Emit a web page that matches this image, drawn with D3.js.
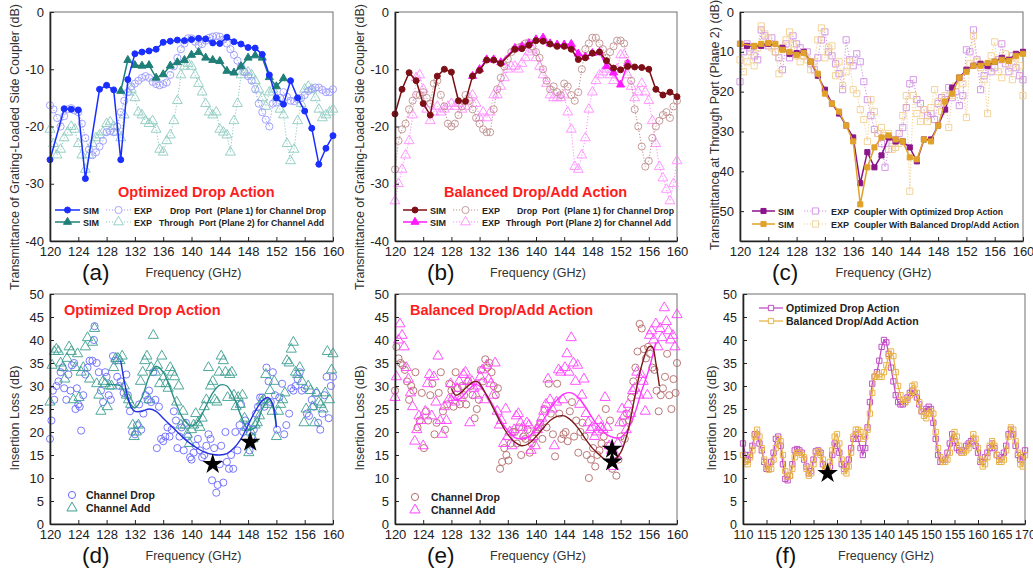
<!DOCTYPE html>
<html>
<head>
<meta charset="utf-8">
<script src="https://cdn.jsdelivr.net/npm/d3@7"></script>
<style>
body { margin: 0; background: #fff; }
svg { display: block; font-family: Arial, "Liberation Sans", sans-serif; }
.pre { white-space: pre; }
</style>
</head>
<body>
<div id="fig"></div>
<script>
// ---- (a) optimized drop action, transmittance
var A_SIM_DROP = [[120,-25.8],[122,-16.9],[123,-17.0],[124,-17.1],[125,-29.1],[127,-13.5],[128,-12.8],[129,-13.6],[130,-25.8],[131,-11.8],[132,-7.3],[133,-7.0],[134,-6.8],[135,-6.5],[136,-5.3],[137,-5.1],[138,-4.9],[139,-5.0],[140,-4.8],[141,-4.6],[142,-4.7],[143,-5.4],[144,-5.5],[145,-4.4],[146,-5.2],[147,-5.6],[148,-6.2],[149,-6.3],[150,-7.4],[151,-11.0],[152,-15.0],[153,-16.1],[154,-12.0],[155,-15.0],[156,-17.3],[157,-20.3],[158,-26.6],[159,-23.8],[160,-21.6]];
var A_SIM_ADD = [[130,-13.8],[131,-8.4],[132,-9.3],[133,-9.4],[134,-9.3],[135,-11.5],[136,-10.9],[137,-9.4],[138,-8.8],[139,-8.4],[140,-7.5],[141,-7.0],[142,-8.0],[143,-8.4],[144,-8.6],[145,-10.3],[146,-10.6],[147,-9.5],[148,-8.0],[149,-7.6],[150,-8.0],[151,-11.4],[152,-13.0],[153,-11.6]];
var A_EXP_DROP = [[120,-16.3],[120.5,-17],[121,-18.5],[121.5,-20],[122,-18.2],[122.5,-17],[123,-16.8],[123.5,-17.2],[124,-17.5],[124.5,-19.5],[125,-22],[125.5,-24],[126,-25],[126.5,-24.5],[127,-23.5],[127.5,-22.5],[128,-21],[128.5,-20.8],[129,-21],[129.5,-20],[130,-17.5],[130.5,-15.5],[131,-14],[131.5,-13],[132,-12.5],[132.5,-12],[133,-11.5],[133.5,-11.2],[134,-11.5],[134.5,-12.2],[135,-12.6],[135.5,-12.8],[136,-12.6],[136.5,-12.3],[137,-11],[137.5,-9.5],[138,-8],[138.5,-6.5],[139,-5.5],[139.5,-4.6],[140,-4.6],[140.5,-5.2],[141,-5.8],[141.5,-5.6],[142,-5.0],[142.5,-4.5],[143,-4.3],[143.5,-4.2],[144,-4.3],[144.5,-4.8],[145,-5.5],[145.5,-6.5],[146,-7.5],[146.5,-8.5],[147,-9.5],[147.5,-10.5],[148,-11.2],[148.5,-12],[149,-13.5],[149.5,-16],[150,-17.5],[150.5,-18.8],[151,-20],[151.5,-16],[152,-15.8],[152.5,-15],[153,-14],[153.5,-14.8],[154,-15.5],[154.5,-15.6],[155,-15.2],[155.5,-15],[156,-14.5],[156.5,-13.8],[157,-13.5],[157.5,-13.2],[158,-13.2],[158.5,-13.6],[159,-14],[159.5,-14],[160,-13.5]];
var A_EXP_ADD = [[120,-20.5],[120.5,-23],[121,-25],[121.5,-24],[122,-22],[122.5,-21],[123,-20],[123.5,-20.5],[124,-23],[124.5,-25],[125,-27.5],[125.5,-25],[126,-23],[126.5,-22],[127,-21.5],[127.5,-21],[128,-19.5],[128.5,-19.2],[129,-20],[129.5,-21],[130,-22],[130.5,-18],[131,-14],[131.5,-13.5],[132,-15],[132.5,-17.5],[133,-18],[133.5,-19],[134,-19.5],[134.5,-19],[135,-20.5],[135.5,-24],[136,-24.5],[136.5,-22.5],[137,-21.5],[137.5,-19],[138,-15.5],[138.5,-11],[139,-9.5],[139.5,-9],[140,-9.5],[140.5,-11],[141,-12.5],[141.5,-14],[142,-16],[142.5,-17.5],[143,-18],[143.5,-17.5],[144,-20.5],[144.5,-21],[145,-21.5],[145.5,-24.5],[146,-19],[146.5,-16],[147,-11],[147.5,-10.5],[148,-10.5],[148.5,-11],[149,-12],[149.5,-13.5],[150,-15],[150.5,-16.5],[151,-14],[151.5,-13.5],[152,-15],[152.5,-17],[153,-18],[153.5,-23],[154,-26],[154.5,-24],[155,-19],[155.5,-16],[156,-13.5],[156.5,-13],[157,-13.5],[157.5,-15],[158,-17],[158.5,-18.5],[159,-18],[159.5,-17.5],[160,-17]];

// ---- (b) balanced drop/add action, transmittance
var B_SIM_DROP = [[120,-17.8],[121,-13.5],[122,-10.6],[123,-12],[124,-16],[125,-18],[126,-11.2],[127,-10],[128,-10.5],[129,-15.5],[130,-15.6],[131,-11.2],[132,-10.2],[133,-8.4],[134,-8.4],[135,-9.0],[137,-6.5],[138,-6.4],[139,-5.8],[140,-5.0],[141,-5.1],[142,-5.6],[143,-6.0],[144,-6.0],[145,-6.5],[146,-8.3],[147,-8.0],[148,-7.2],[149,-7.0],[150,-8.5],[151,-9.8],[152,-10.1],[153,-9.5],[154,-9.6],[155,-9.7],[156,-10.0],[157,-13.5],[158,-14.5],[159,-14],[160,-14.8]];
var B_SIM_ADD = [[131,-11.2],[132,-10],[133,-8.3],[134,-8.3],[135,-8.8],[137,-6.3],[138,-6],[139,-5.5],[140,-4.8],[141,-4.5],[142,-5.5],[143,-5.7],[144,-5.7],[145,-5.6],[146,-7.3],[147,-7.8],[148,-7.2],[149,-7.0],[150,-9.5],[151,-10.6],[152,-12.7],[153,-9]];
var B_EXP_DROP = [[120,-27.5],[120.5,-22.5],[121,-20.5],[121.5,-19.5],[122,-17],[122.5,-15.5],[123,-14.5],[123.5,-14.5],[124,-14],[124.5,-15],[125,-16],[125.5,-12.5],[126,-12],[126.5,-14.5],[127,-16.5],[127.5,-19.5],[128,-20],[128.5,-19.5],[129,-18],[129.5,-16.5],[130,-14.5],[130.5,-15.5],[131,-17],[131.5,-18.5],[132,-19.5],[132.5,-20.5],[133,-21],[133.5,-21],[134,-17],[134.5,-13.5],[135,-11.5],[135.5,-9.5],[136,-8.2],[136.5,-7],[137,-6.5],[137.5,-6.2],[138,-6],[138.5,-5.5],[139,-5.3],[139.5,-6],[140,-7],[140.5,-8],[141,-10],[141.5,-12],[142,-13.5],[142.5,-13],[143,-14],[143.5,-14.5],[144,-12.5],[144.5,-13],[145,-14.5],[145.5,-15.5],[146,-14],[146.5,-10],[147,-6.5],[147.5,-5.5],[148,-4.5],[148.5,-4.5],[149,-5.5],[149.5,-6.5],[150,-8],[150.5,-7],[151,-6],[151.5,-5],[152,-5],[152.5,-5.5],[153,-9],[153.5,-12],[154,-17],[154.5,-20],[155,-23.5],[155.5,-27],[156,-26],[156.5,-22],[157,-20],[157.5,-19],[158,-18],[158.5,-17.5],[159,-18.5],[159.5,-16.5],[160,-15.5]];
var B_EXP_ADD = [[120,-33],[120.5,-30],[121,-27.5],[121.5,-25],[122,-22.5],[122.5,-18],[123,-11.5],[123.5,-11],[124,-13.5],[124.5,-17],[125,-19],[125.5,-17.5],[126,-16.5],[126.5,-17.5],[127,-17],[127.5,-16.5],[128,-16],[128.5,-16.5],[129,-16],[129.5,-17],[130,-16.5],[130.5,-15],[131,-14.5],[131.5,-16],[132,-18.5],[132.5,-17.5],[133,-18.5],[133.5,-17.5],[134,-14.5],[134.5,-14.5],[135,-13],[135.5,-11.5],[136,-10],[136.5,-9.5],[137,-9.5],[137.5,-10],[138,-9],[138.5,-8],[139,-7],[139.5,-6.5],[140,-8],[140.5,-9.5],[141,-11],[141.5,-12.5],[142,-14.5],[142.5,-15],[143,-15],[143.5,-15],[144,-14.5],[144.5,-17.5],[145,-20.5],[145.5,-27],[146,-27.5],[146.5,-25],[147,-22],[147.5,-17],[148,-14],[148.5,-12],[149,-11],[149.5,-10.5],[150,-10],[150.5,-11],[151,-12],[151.5,-10],[152,-7.5],[152.5,-7.5],[153,-11],[153.5,-13],[154,-15],[154.5,-14],[155,-12.5],[155.5,-14],[156,-15.5],[156.5,-19],[157,-23],[157.5,-27],[158,-29],[158.5,-31],[159,-33],[159.5,-30],[160,-26]];

// ---- (c) through port transmittance
var C_SIM_OPT = [[120,-8],[121,-8.5],[122,-8.6],[123,-8.5],[124,-8],[126,-9],[127,-10.5],[128,-10.3],[129,-10],[130,-12.5],[131,-16],[132,-19.5],[133,-23],[134,-25.5],[135,-28.5],[136,-31.5],[137,-43],[138,-35.2],[139,-39],[140,-36],[141,-31.5],[142,-32.5],[143,-32.5],[144,-34],[145,-37.5],[146,-32],[147,-32],[148,-28.5],[149,-24.5],[150,-19],[151,-16.5],[152,-14.5],[153,-13.5],[154,-13],[155,-13.5],[156,-12.5],[157,-11.5],[158,-12],[159,-10.5],[160,-10]];
var C_SIM_BAL = [[120,-8],[122,-8.5],[123,-8],[124,-7.8],[125,-8],[126,-9.5],[127,-10],[128,-10.8],[129,-10.3],[130,-12.5],[131,-15.5],[132,-20.5],[133,-23],[134,-25],[135,-28.5],[136,-32.5],[137,-48.3],[138,-39],[139,-34],[140,-31.5],[141,-31],[142,-32],[143,-32.5],[144,-36.5],[145,-37],[146,-32],[147,-32.5],[148,-28.5],[149,-22.5],[150,-20.5],[151,-16.5],[152,-15],[153,-13.5],[154,-13.5],[155,-12.8],[156,-12.5],[157,-12],[158,-12.3],[159,-11],[160,-10.5]];
var C_EXP_OPT = [[120,-17.5],[120.5,-10],[121,-8],[121.5,-9],[122,-11],[122.5,-12],[123,-4.5],[123.5,-6],[124,-8.5],[124.5,-6.5],[125,-10],[125.5,-11.5],[126,-14.5],[126.5,-8],[127,-11.5],[127.5,-6],[128,-8],[128.5,-9],[129,-11],[129.5,-10],[130,-13],[130.5,-14.5],[131,-11.5],[131.5,-7],[132,-5],[132.5,-10],[133,-11],[133.5,-13],[134,-15.5],[134.5,-19.5],[135,-7],[135.5,-12],[136,-13.5],[136.5,-10.5],[137,-12.5],[137.5,-17.5],[138,-22],[138.5,-26],[139,-29.5],[139.5,-30.5],[140,-33],[140.5,-39],[141,-34.5],[141.5,-33],[142,-32],[142.5,-30.5],[143,-29],[143.5,-24],[144,-18],[144.5,-17],[145,-22],[145.5,-23],[146,-24.5],[146.5,-26],[147,-25.5],[147.5,-27],[148,-23],[148.5,-21.5],[149,-22],[149.5,-19],[150,-21.5],[150.5,-20],[151,-23.5],[151.5,-21],[152,-9.5],[152.5,-10],[153,-4.5],[153.5,-12],[154,-19.5],[154.5,-16],[155,-13.5],[155.5,-15],[156,-14],[156.5,-12],[157,-8],[157.5,-13],[158,-15],[158.5,-11],[159,-14],[159.5,-16],[160,-17]];
var C_EXP_BAL = [[120,-12],[120.5,-15],[121,-12.5],[121.5,-10],[122,-13.5],[122.5,-9],[123,-3.5],[123.5,-5.5],[124,-6.5],[124.5,-9],[125,-10],[125.5,-15.5],[126,-9],[126.5,-7],[127,-5],[127.5,-8],[128,-11],[128.5,-12.5],[129,-11],[129.5,-12],[130,-14.5],[130.5,-12.5],[131,-7],[131.5,-4],[132,-11.5],[132.5,-9],[133,-8.5],[133.5,-16],[134,-12.5],[134.5,-18.5],[135,-15],[135.5,-12.5],[136,-19.5],[136.5,-20.5],[137,-24.5],[137.5,-27],[138,-32.5],[138.5,-22],[139,-25],[139.5,-30.5],[140,-29],[140.5,-31],[141,-30.5],[141.5,-34.5],[142,-34],[142.5,-33],[143,-26],[143.5,-21],[144,-45],[144.5,-21],[145,-25.5],[145.5,-27.5],[146,-24.5],[146.5,-27.5],[147,-24],[147.5,-19.5],[148,-22.5],[148.5,-25],[149,-21],[149.5,-29],[150,-21],[150.5,-18.5],[151,-16.5],[151.5,-18],[152,-26.5],[152.5,-13],[153,-6],[153.5,-12.5],[154,-14],[154.5,-17],[155,-25.5],[155.5,-11],[156,-7.5],[156.5,-15],[157,-16.5],[157.5,-10.5],[158,-13],[158.5,-17],[159,-11.5],[159.5,-13.5],[160,-21]];

// ---- (d) optimized drop action, insertion loss
var D_DROP = [[120.0,18.5],[120.2,22.5],[120.4,29],[120.6,27],[120.9,30],[121.2,31],[121.5,33],[121.8,34],[122.0,29.5],[122.3,27],[122.6,32.5],[122.9,29],[123.1,34.5],[123.4,35],[123.6,25],[123.8,29.5],[124.0,26],[124.2,25.5],[124.4,20.3],[124.7,28],[125.0,32.5],[125.3,34],[125.6,35.5],[126.0,35.5],[126.2,40],[126.3,43],[126.6,35],[126.9,33],[127.2,29],[127.5,26.5],[127.8,33],[128.0,32],[128.3,28],[128.6,27],[128.9,36.5],[129.2,35.5],[129.5,32],[129.8,30],[130.0,31],[130.4,28.5],[130.8,32.5],[131.0,28],[131.3,24.5],[131.6,20],[132.0,19.5],[132.3,21.5],[132.6,26],[132.9,20.5],[133.2,24],[133.5,28],[133.8,27],[134.0,29],[134.3,26.5],[134.6,33],[134.9,27],[135.1,16.5],[135.4,25.5],[135.7,18.5],[136.0,18],[136.3,19],[136.6,21],[136.9,19],[137.2,20.5],[137.5,24.5],[137.8,22.5],[138.0,16.5],[138.3,19],[138.6,21],[138.9,16],[139.2,22],[139.5,19],[139.8,14.5],[140.0,14],[140.3,15.5],[140.6,17],[140.9,18.5],[141.2,16],[141.5,14.5],[141.8,15],[142.1,17],[142.4,19.5],[142.7,18.5],[142.9,9.5],[143.2,16.5],[143.5,6.8],[143.7,8.5],[144.0,13],[144.2,17],[144.5,9],[144.8,20],[145.0,13.5],[145.3,12],[145.6,15],[145.9,12],[146.2,20],[146.5,16],[146.8,21.5],[147.0,26],[147.3,20],[147.6,22.5],[147.9,21],[148.2,16],[148.5,19],[148.8,20.5],[149.1,24],[149.4,25.5],[149.7,27.5],[150.0,27.5],[150.3,25.5],[150.6,34],[150.9,31],[151.2,26.5],[151.5,33],[151.8,28],[152.1,20.5],[152.4,27.5],[152.8,30.5],[153.1,19.5],[153.4,21.5],[153.8,24],[154.1,29.5],[154.4,29],[154.7,30],[155.0,31.5],[155.3,33],[155.6,29],[156.0,29.5],[156.3,24],[156.6,23.5],[157.0,27],[157.3,25.5],[157.6,28.5],[157.9,22],[158.2,20.5],[158.5,24],[158.8,28],[159.1,32],[159.4,23],[159.7,30],[160.0,32]];
var D_ADD = [[120.0,26.5],[120.3,34.5],[120.6,37.5],[120.9,38],[121.2,37.5],[121.5,35],[121.8,34],[122.1,31.5],[122.4,36],[122.7,38.5],[123.0,37.5],[123.3,27],[123.6,34],[123.9,37],[124.1,27.5],[124.4,33],[124.7,34],[125.0,38.5],[125.3,40.5],[125.6,31.5],[126.0,39.5],[126.3,42.5],[126.6,30.5],[126.9,28],[127.2,24.5],[127.5,31],[127.8,30.5],[128.1,25.5],[128.4,30],[128.7,30],[129.0,34],[129.3,36],[129.6,36],[129.9,35.5],[130.2,36.5],[130.5,30],[130.8,28],[131.1,27],[131.4,26],[131.7,21.5],[131.9,19],[132.2,20],[132.5,21.5],[132.8,31],[133.1,33],[133.4,35.5],[133.7,36.5],[134.0,27],[134.3,34],[134.6,41],[134.9,33],[135.2,34.5],[135.5,30.5],[135.8,36.5],[136.1,32],[136.4,30.5],[136.7,29.5],[137.0,34],[137.3,33],[137.6,32],[137.9,26.5],[138.2,30],[138.5,21.5],[138.8,24.5],[139.1,21.5],[139.4,19.5],[139.7,17.5],[140.0,20.5],[140.3,21.5],[140.6,24],[140.9,22],[141.2,21],[141.5,23],[141.8,25.5],[142.1,27],[142.4,34],[142.7,30],[143.0,31],[143.3,27],[143.6,26.5],[143.9,33],[144.2,36.5],[144.5,35.5],[144.8,33],[145.1,27.5],[145.4,32.5],[145.7,33],[146.0,28],[146.3,25.5],[146.6,27.5],[146.9,26],[147.2,28],[147.5,23],[147.8,21],[148.1,15.5],[148.4,20],[148.7,18.5],[149.0,21.5],[149.3,22],[149.6,23.5],[149.9,26.5],[150.2,27],[150.5,32.5],[150.8,26],[151.1,29],[151.4,24.5],[151.7,31],[152.0,19],[152.3,24.5],[152.6,26],[152.9,27],[153.2,28.5],[153.5,35.5],[153.8,35],[154.1,38],[154.4,39.5],[154.7,33],[155.0,32.5],[155.3,34],[155.6,31],[155.9,22],[156.2,25],[156.5,30],[156.8,29],[157.1,25.5],[157.4,22],[157.7,28.5],[158.0,26.5],[158.3,26],[158.6,25],[158.9,28.5],[159.2,37.5],[159.5,27],[159.8,33.5],[160.0,37]];
var D_FIT_DROP = [[130,35.5],[130.5,31],[131,27.5],[131.5,25.3],[132,24.5],[133,24.5],[134,25],[135,24.5],[136,23],[137,21.5],[138,20],[139,18.5],[140,17.3],[141,16.3],[142,15.5],[143,15.1],[144,15.0],[145,15.3],[146,16.5],[147,18.5],[148,21.5],[149,24.5],[150,26.8],[150.8,27.5],[151.5,26],[152,21]];
var D_FIT_ADD = [[128,30.3],[129,30.3],[130,30],[131,27],[132,25.2],[133,27.5],[134,32],[135,34.3],[136,33],[137,29.5],[138,25.5],[139,22.5],[140,21.3],[141,22.5],[142,25.5],[143,28.5],[144,30.2],[145,30],[146,27.5],[147,23.5],[148,20.6],[149,21],[150,25],[151,27.2],[151.5,25.5],[152,21]];
var D_STARS = [[143,13],[148.3,17.8]];

// ---- (e) balanced drop/add action, insertion loss
var E_DROP = [[120.0,29],[120.2,38.5],[120.5,36],[120.8,35],[121.1,34.5],[121.4,33.5],[121.7,31],[122.0,27],[122.3,30],[122.6,29],[122.9,33],[123.2,21],[123.5,22.5],[123.8,28.5],[124.1,16.5],[124.4,24.5],[124.7,22.5],[125.0,28],[125.3,30.5],[125.6,19.5],[125.9,22],[126.2,28.5],[126.5,33],[126.8,24.5],[127.1,20.5],[127.4,26],[127.7,30.5],[128.0,29],[128.3,25.5],[128.6,33],[128.9,29.5],[129.2,26],[129.5,30],[129.8,28],[130.1,26],[130.4,31],[130.7,30],[131.0,28],[131.3,23],[131.6,25],[131.9,27],[132.2,33.5],[132.5,31],[132.8,35.8],[133.1,34],[133.4,35],[133.7,33],[134.0,30],[134.3,28],[134.6,29.5],[134.9,12],[135.2,13.5],[135.5,16.5],[135.8,15],[136.1,13.8],[136.4,17.5],[136.7,20],[137.0,20],[137.3,17.5],[137.6,21],[137.9,15],[138.2,19],[138.5,18.5],[138.8,20.5],[139.1,15.5],[139.4,17.5],[139.7,18.5],[140.0,20],[140.3,21],[140.6,22],[140.9,18.5],[141.2,25],[141.5,21],[141.8,30.5],[142.1,24],[142.4,19.5],[142.7,14.7],[143.0,30.5],[143.3,24],[143.6,18.5],[143.9,19.5],[144.2,20],[144.5,18],[144.8,24.5],[145.1,26.5],[145.4,19],[145.7,22.5],[146.0,15.5],[146.3,20],[146.6,22],[146.9,19],[147.2,15],[147.5,10],[147.8,14],[148.1,16.5],[148.4,12.5],[148.7,15],[149.0,16],[149.3,17.5],[149.6,19],[149.9,25],[150.2,17],[150.5,22.5],[150.8,12],[151.1,14.5],[151.4,10.5],[151.7,14],[152.0,19],[152.3,22],[152.6,18.5],[152.9,24],[153.2,22.5],[153.5,27.5],[153.8,31],[154.1,34],[154.4,37.5],[154.7,43.5],[155.0,42.5],[155.3,38],[155.6,36],[155.9,38.5],[156.2,37],[156.5,34],[156.8,33.5],[157.1,29],[157.4,24.5],[157.7,28],[158.0,29.5],[158.3,32],[158.6,37],[158.9,28],[159.2,25],[159.5,31.5],[159.8,28.5],[160.0,35]];
var E_ADD = [[120.0,27.5],[120.2,32],[120.5,40],[120.7,43.5],[121.0,41],[121.3,38.5],[121.6,34],[121.9,31.5],[122.2,28.5],[122.5,25.5],[122.8,18],[123.1,20.5],[123.4,23.5],[123.7,22.5],[124.0,17],[124.3,24.5],[124.6,30.5],[124.9,32.5],[125.2,23.5],[125.5,32],[125.8,26.5],[126.1,36.5],[126.4,22.5],[126.7,19.5],[127.0,25.5],[127.3,22.5],[127.6,27],[127.9,30.5],[128.2,27.5],[128.5,26.5],[128.8,29.5],[129.1,31],[129.4,27.5],[129.7,32.5],[130.0,33],[130.3,31],[130.6,22],[130.9,31],[131.2,29.5],[131.5,28],[131.8,30],[132.1,32],[132.4,33.5],[132.7,27],[133.0,34.5],[133.3,31.5],[133.6,30.5],[133.9,28],[134.2,35],[134.5,24.5],[134.8,21.5],[135.1,22.5],[135.4,17.5],[135.7,25],[136.0,19],[136.3,20],[136.6,17],[136.9,20.5],[137.2,23.5],[137.5,24],[137.8,22],[138.1,21],[138.4,19.5],[138.7,22],[139.0,21.5],[139.3,16],[139.6,19],[139.9,17],[140.2,20.5],[140.5,21.5],[140.8,23],[141.1,24.5],[141.4,26],[141.7,31.5],[142.0,27],[142.3,25],[142.6,17],[142.9,26.5],[143.2,33.5],[143.5,33],[143.8,27],[144.1,34],[144.4,37],[144.7,33],[145.0,40.5],[145.3,35],[145.6,31],[145.9,34.5],[146.2,26],[146.5,28],[146.8,31.5],[147.1,24],[147.4,22],[147.7,20.5],[148.0,21],[148.3,19],[148.6,20],[148.9,22.5],[149.2,21],[149.5,20.5],[149.8,27.5],[150.1,21],[150.4,17],[150.7,16],[151.0,12.5],[151.3,15],[151.6,17.5],[151.9,22],[152.2,25],[152.5,23.5],[152.8,20.5],[153.1,26],[153.4,24],[153.7,29],[154.0,29.5],[154.3,33],[154.6,28],[154.9,32.5],[155.2,31],[155.5,24.5],[155.8,28],[156.1,41],[156.4,42],[156.7,40],[157.0,43.5],[157.3,38.5],[157.6,42.5],[157.9,40.5],[158.2,47],[158.5,44],[158.8,42],[159.1,40],[159.4,41],[159.7,38.5],[160.0,45.5]];
var E_FIT_DROP = [[128,29.5],[128.6,28],[129.3,28.5],[130,29.5],[131,30.8],[131.6,31],[132,30.5],[133,28],[134,25],[135,22],[136,19.5],[137,17.8],[138,17],[139,17.5],[140,19],[141,20.8],[142,22.5],[143,23.4],[144,23.5],[145,22.5],[146,20.8],[147,18.5],[148,16.5],[149,15],[150,13.8],[151,13.8],[152,15.5],[153,20],[154,27.5],[155,34.5],[156,38.5],[156.5,38.5],[157,35],[157.5,30]];
var E_FIT_ADD = [[128,28],[128.6,27],[129.3,27.3],[130,28.5],[131,30],[131.5,30.3],[132,30],[133,28],[134,25.5],[135,22.5],[136,20.3],[137,18.8],[138,18.5],[139,19],[140,20.5],[141,22.5],[142,25],[143,27],[144,28.3],[145,28.5],[146,27.5],[147,25.5],[148,23],[149,21],[150,19.5],[151,18.8],[152,18.8],[153,20.5],[154,24],[155,29],[156,33.5],[157,39.5]];
var E_STARS = [[150.8,16.3],[150.8,13.5]];

// ---- (f) insertion loss, wide band
var F_OPT = [[110,17.5],[110.5,15],[111,14],[111.5,15],[112,17],[112.5,19.5],[113,19.5],[113.5,17.5],[114,16],[114.5,13.5],[115,12],[115.5,12],[116,13.5],[116.5,15.5],[117,18.5],[117.5,19],[118,17],[118.5,13],[119,9.8],[119.5,9.5],[120,10.5],[120.5,13],[121,16],[121.5,16.3],[122,16],[122.5,15.5],[123,14],[123.5,12.5],[124,11],[124.5,11.5],[125,14],[125.5,15.8],[126,16],[126.5,15.5],[127,13],[127.5,11.5],[128,11.3],[128.5,12.5],[129,15],[129.5,17.5],[130,17],[130.5,15.5],[131,13],[131.5,12],[132,12.5],[132.5,14],[133,16.5],[133.5,18.5],[134,19.5],[134.5,18.5],[135,16.5],[135.5,15],[136,16.5],[136.5,21],[137,26.5],[137.5,30.5],[138,32],[138.5,33],[139,35.5],[139.5,38.5],[140,40],[140.5,39.5],[141,37],[141.5,34],[142,31],[142.5,28],[143,26.5],[143.5,26],[144,26],[144.5,26.5],[145,27.5],[145.5,28.5],[146,29],[146.5,28.5],[147,27.5],[147.5,26],[148,24.5],[148.5,24.5],[149,25],[149.5,25.5],[150,25],[150.5,22],[151,18.5],[151.5,15],[152,13.5],[152.5,13.5],[153,14],[153.5,15.5],[154,17.5],[154.5,19.5],[155,18],[155.5,16.5],[156,16],[156.5,15.5],[157,16],[157.5,17],[158,17.5],[158.5,18],[159,18.5],[159.5,17],[160,15.5],[160.5,13.5],[161,13.5],[161.5,14.5],[162,15.5],[162.5,16.5],[163,17.5],[163.5,16.5],[164,15],[164.5,14],[165,14.5],[165.5,15.5],[166,17],[166.5,19.5],[167,20.5],[167.5,19.5],[168,17],[168.5,15],[169,14],[169.5,14.5],[170,16]];
var F_BAL = [[110,15],[110.5,13.5],[111,13],[111.5,14.5],[112,16],[112.5,19],[113,20.5],[113.5,19],[114,16.5],[114.5,14],[115,12.5],[115.5,11.8],[116,12],[116.5,14],[117,16.5],[117.5,18.5],[118,18],[118.5,15],[119,11.5],[119.5,10.3],[120,10.5],[120.5,12],[121,14.5],[121.5,15.5],[122,15.5],[122.5,15],[123,14.5],[123.5,12],[124,10.5],[124.5,11],[125,13],[125.5,15.5],[126,15.8],[126.5,15],[127,14],[127.5,12],[128,12],[128.5,13.5],[129,16],[129.5,19],[130,19.5],[130.5,17.5],[131,14],[131.5,11.5],[132,11],[132.5,12.5],[133,15.5],[133.5,19],[134,20.5],[134.5,20.5],[135,20],[135.5,18.5],[136,19],[136.5,20.5],[137,24],[137.5,28.5],[138,32],[138.5,32.5],[139,32],[139.5,32],[140,33],[140.5,34.5],[141,36.5],[141.5,37.5],[142,36.5],[142.5,33],[143,30],[143.5,28],[144,27],[144.5,26.5],[145,27],[145.5,28],[146,30],[146.5,30.3],[147,28.5],[147.5,26.5],[148,24.5],[148.5,23.5],[149,23],[149.5,24],[150,24.5],[150.5,24],[151,20],[151.5,16.5],[152,14.5],[152.5,13.5],[153,13.5],[153.5,14],[154,15.5],[154.5,18.5],[155,20],[155.5,19],[156,17],[156.5,15.5],[157,15.5],[157.5,16],[158,16.5],[158.5,17.5],[159,19.5],[159.5,18.5],[160,16.5],[160.5,14],[161,12.5],[161.5,13],[162,14.5],[162.5,17],[163,18],[163.5,17],[164,15],[164.5,13.5],[165,13.5],[165.5,14],[166,16],[166.5,19],[167,21],[167.5,20.5],[168,18],[168.5,15.5],[169,13],[169.5,12.5],[170,15]];
var F_STARS = [[128,11]];

// tick labels
var TICKS_120_160 = [120,124,128,132,136,140,144,148,152,156,160];
var TICKS_110_170 = [110,115,120,125,130,135,140,145,150,155,160,165,170];
var TICKS_T40 = [0,-10,-20,-30,-40];
var TICKS_T50 = [0,-10,-20,-30,-40,-50];
var TICKS_IL = [0,5,10,15,20,25,30,35,40,45,50];

var svg = d3.select("#fig").append("svg").attr("width",1033).attr("height",569);

function panel(o){
  var x = d3.scaleLinear().domain(o.xd).range([o.l,o.r]);
  var y = d3.scaleLinear().domain(o.yd).range([o.b,o.t]);
  var g = svg.append("g");
  g.append("rect").attr("x",o.l).attr("y",o.t).attr("width",o.r-o.l).attr("height",o.b-o.t)
    .attr("fill","none").attr("stroke","#6e6e6e").attr("stroke-width",1);
  var plot = g.append("g");
  var xa = g.append("g").attr("transform","translate(0,"+o.b+")")
    .call(d3.axisBottom(x).tickValues(o.xt).tickSizeInner(-4).tickSizeOuter(0).tickPadding(6).tickFormat(function(d){return String(d);}));
  var ya = g.append("g").attr("transform","translate("+o.l+",0)")
    .call(d3.axisLeft(y).tickValues(o.yt).tickSizeInner(-4).tickSizeOuter(0).tickPadding(6).tickFormat(function(d){return String(d);}));
  [xa,ya].forEach(function(a){
    a.attr("font-family","Arial, 'Liberation Sans', sans-serif").attr("font-size", o.fs || 13);
    a.select(".domain").attr("stroke","#222").attr("stroke-width",1.6);
    a.selectAll(".tick line").attr("stroke","#222");
    a.selectAll(".tick text").attr("fill","#222");
  });
  g.append("text").attr("x",(o.l+o.r)/2+2).attr("y",o.b+36).attr("text-anchor","middle")
    .attr("font-size",12.5).attr("fill","#333").text("Frequency (GHz)");
  g.append("text").attr("transform","translate("+o.ytx+","+o.yty+") rotate(-90)").attr("text-anchor","middle")
    .attr("font-size",12.5).attr("fill","#333").text(o.ytitle);
  g.append("text").attr("x",o.l+32).attr("y",o.b+38.5).attr("font-size",22.5).attr("fill","#111").text(o.label);
  return {x:x, y:y, plot:plot, g:g};
}

function series(p, data, s){
  if (s.line) {
    p.plot.append("path").datum(data)
      .attr("d", d3.line().x(function(d){return p.x(d[0]);}).y(function(d){return p.y(d[1]);}).curve(s.curve || d3.curveLinear))
      .attr("fill","none").attr("stroke", s.lineColor || s.color).attr("stroke-width", s.lw || 1.4)
      .attr("stroke-dasharray", s.dash || null);
  }
  if (s.sym) {
    p.plot.append("g").selectAll("path").data(data).enter().append("path")
      .attr("transform", function(d){return "translate("+p.x(d[0])+","+p.y(d[1])+")";})
      .attr("d", d3.symbol(s.sym, s.size)())
      .attr("fill", s.fill ? s.color : "none")
      .attr("stroke", s.color).attr("stroke-width", s.sw || 1);
  }
}

function stars(p, data){
  p.plot.append("g").selectAll("path").data(data).enter().append("path")
    .attr("transform", function(d){return "translate("+p.x(d[0])+","+p.y(d[1])+")";})
    .attr("d", d3.symbol(d3.symbolStar, 130)()).attr("fill","#000");
}

function legItem(g, x0, x1, y, s, txt, tx, fs){
  g.append("line").attr("x1",x0).attr("x2",x1).attr("y1",y).attr("y2",y)
    .attr("stroke", s.color).attr("stroke-width", s.lw || 1.4).attr("stroke-dasharray", s.dash || null);
  g.append("path").attr("transform","translate("+((x0+x1)/2)+","+y+")").attr("d", d3.symbol(s.sym, s.size)())
    .attr("fill", s.fill ? s.color : "#fff").attr("stroke", s.color).attr("stroke-width", s.sw || 1);
  g.append("text").attr("x",tx).attr("y",y+3.5).attr("font-size",fs || 9).attr("font-weight","bold").attr("fill","#222").text(txt);
}

// legend description text squeezed to the width it takes in the figure
function legText(g, x, y, w, txt){
  g.append("text").attr("class","pre").attr("x",x).attr("y",y).attr("font-size",9).attr("font-weight","bold")
    .attr("fill","#222").attr("textLength",w).attr("lengthAdjust","spacingAndGlyphs").text(txt);
}

function redTitle(g, x, y, txt){
  g.append("text").attr("x",x).attr("y",y).attr("font-size",14.5).attr("font-weight","bold").attr("fill","#ff1c1c").text(txt);
}

var DOT = "1.2,1.8";

// ---------- (a)
var pa = panel({l:50,r:333,t:12,b:241,xd:[120,160],yd:[-40,0],xt:TICKS_120_160,yt:TICKS_T40,
  ytitle:"Transmittance of Grating-Loaded Side Coupler (dB)",ytx:19,yty:147,label:"(a)"});
var sA1 = {color:"#1a2fff",sym:d3.symbolCircle,size:28,fill:true,line:true,lw:1.5};
var sA2 = {color:"#9a9aff",sym:d3.symbolCircle,size:40,line:true,lw:1,dash:DOT,sw:0.9};
var sA3 = {color:"#1f7f78",sym:d3.symbolTriangle,size:28,fill:true,line:true,lw:1.5};
var sA4 = {color:"#8ccbc0",sym:d3.symbolTriangle,size:42,line:true,lw:1,dash:DOT,sw:0.9};
series(pa, A_EXP_ADD, sA4);
series(pa, A_EXP_DROP, sA2);
series(pa, A_SIM_ADD, sA3);
series(pa, A_SIM_DROP, sA1);
redTitle(pa.g, 118, 197, "Optimized Drop Action");
legItem(pa.g, 55, 80, 210, sA1, "SIM", 83);
legItem(pa.g, 106, 131, 210, sA2, "EXP", 134);
legItem(pa.g, 55, 80, 222, sA3, "SIM", 83);
legItem(pa.g, 106, 131, 222, sA4, "EXP", 134);
legText(pa.g, 170, 213.5, 156, "Drop  Port  (Plane 1) for Channel Drop");
legText(pa.g, 159, 225.5, 165, "Through  Port (Plane 2) for Channel Add");

// ---------- (b)
var pb = panel({l:395,r:677,t:12,b:241,xd:[120,160],yd:[-40,0],xt:TICKS_120_160,yt:TICKS_T40,
  ytitle:"Transmittance of Grating-Loaded Side Coupler (dB)",ytx:364,yty:147,label:"(b)"});
var sB1 = {color:"#7d0f16",sym:d3.symbolCircle,size:28,fill:true,line:true,lw:1.5};
var sB2 = {color:"#c09090",sym:d3.symbolCircle,size:40,line:true,lw:1,dash:DOT,sw:0.9};
var sB3 = {color:"#ff1aff",sym:d3.symbolTriangle,size:28,fill:true,line:true,lw:1.5};
var sB4 = {color:"#ff8cff",sym:d3.symbolTriangle,size:42,line:true,lw:1,dash:DOT,sw:0.9};
series(pb, B_EXP_ADD, sB4);
series(pb, B_EXP_DROP, sB2);
series(pb, B_SIM_ADD, sB3);
series(pb, B_SIM_DROP, sB1);
redTitle(pb.g, 444, 197, "Balanced Drop/Add Action");
legItem(pb.g, 403, 427, 210, sB1, "SIM", 430);
legItem(pb.g, 453, 478, 210, sB2, "EXP", 482);
legItem(pb.g, 403, 427, 222, sB3, "SIM", 430);
legItem(pb.g, 453, 478, 222, sB4, "EXP", 482);
legText(pb.g, 517, 213.5, 157, "Drop  Port  (Plane 1) for Channel Drop");
legText(pb.g, 506, 225.5, 165, "Through  Port (Plane 2) for Channel Add");

// ---------- (c)
var pc = panel({l:740,r:1023,t:12,b:241,xd:[120,160],yd:[-57.5,0],xt:TICKS_120_160,yt:TICKS_T50,
  ytitle:"Transmittance at Through Port (Plane 2) (dB)",ytx:719,yty:125,label:"(c)"});
var sC1 = {color:"#8a158a",sym:d3.symbolSquare,size:26,fill:true,line:true,lw:1.5};
var sC2 = {color:"#cf8fe3",sym:d3.symbolSquare,size:38,line:true,lw:1,dash:DOT,sw:0.9};
var sC3 = {color:"#e0a22a",sym:d3.symbolSquare,size:26,fill:true,line:true,lw:1.5};
var sC4 = {color:"#f3cf8c",sym:d3.symbolSquare,size:38,line:true,lw:1,dash:DOT,sw:0.9};
series(pc, C_EXP_OPT, sC2);
series(pc, C_EXP_BAL, sC4);
series(pc, C_SIM_OPT, sC1);
series(pc, C_SIM_BAL, sC3);
legItem(pc.g, 752, 775, 211, sC1, "SIM", 778);
legItem(pc.g, 804, 827, 211, sC2, "EXP", 831);
legItem(pc.g, 752, 775, 224, sC3, "SIM", 778);
legItem(pc.g, 804, 827, 224, sC4, "EXP", 831);
legText(pc.g, 854, 214.5, 149, "Coupler With Optimized Drop Action");
legText(pc.g, 854, 227.5, 165, "Coupler With Balanced Drop/Add Action");

// ---------- (d)
var pd = panel({l:50,r:333,t:294,b:524,xd:[120,160],yd:[0,50],xt:TICKS_120_160,yt:TICKS_IL,
  ytitle:"Insertion Loss (dB)",ytx:19,yty:418,label:"(d)"});
var sD1 = {color:"#6a6aff",sym:d3.symbolCircle,size:40,sw:0.9};
var sD2 = {color:"#3b9e90",sym:d3.symbolTriangle,size:45,sw:0.9};
series(pd, D_DROP, sD1);
series(pd, D_ADD, sD2);
series(pd, D_FIT_ADD, {color:"#2b8f86",line:true,lw:1.4,curve:d3.curveCatmullRom});
series(pd, D_FIT_DROP, {color:"#2430e0",line:true,lw:1.4,curve:d3.curveCatmullRom});
stars(pd, D_STARS);
redTitle(pd.g, 64, 315, "Optimized Drop Action");
[[sD1,495,"Channel Drop"],[sD2,508,"Channel Add"]].forEach(function(r){
  pd.g.append("path").attr("transform","translate(72,"+r[1]+")").attr("d",d3.symbol(r[0].sym,r[0].size)()).attr("fill","none").attr("stroke",r[0].color);
  pd.g.append("text").attr("x",86).attr("y",r[1]+4).attr("font-size",10.5).attr("font-weight","bold").attr("fill","#222").text(r[2]);
});

// ---------- (e)
var pe = panel({l:395,r:677,t:294,b:524,xd:[120,160],yd:[0,50],xt:TICKS_120_160,yt:TICKS_IL,
  ytitle:"Insertion Loss (dB)",ytx:364,yty:418,label:"(e)"});
var sE1 = {color:"#b36a6a",sym:d3.symbolCircle,size:40,sw:0.9};
var sE2 = {color:"#ff40ff",sym:d3.symbolTriangle,size:45,sw:0.9};
series(pe, E_DROP, sE1);
series(pe, E_ADD, sE2);
series(pe, E_FIT_ADD, {color:"#ff30ff",line:true,lw:1.4,curve:d3.curveCatmullRom});
series(pe, E_FIT_DROP, {color:"#7a1b1b",line:true,lw:1.4,curve:d3.curveCatmullRom});
stars(pe, E_STARS);
redTitle(pe.g, 410, 315, "Balanced Drop/Add Action");
[[sE1,497,"Channel Drop"],[sE2,510,"Channel Add"]].forEach(function(r){
  pe.g.append("path").attr("transform","translate(415,"+r[1]+")").attr("d",d3.symbol(r[0].sym,r[0].size)()).attr("fill","none").attr("stroke",r[0].color);
  pe.g.append("text").attr("x",431).attr("y",r[1]+4).attr("font-size",10.5).attr("font-weight","bold").attr("fill","#222").text(r[2]);
});

// ---------- (f)
var pf = panel({l:743,r:1025,t:294,b:524,xd:[110,170],yd:[0,50],xt:TICKS_110_170,yt:TICKS_IL,fs:12.5,
  ytitle:"Insertion Loss (dB)",ytx:716,yty:418,label:"(f)"});
var sF1 = {color:"#c24fc6",sym:d3.symbolSquare,size:28,line:true,lw:1.3,sw:1};
var sF2 = {color:"#e9b44a",sym:d3.symbolSquare,size:28,line:true,lw:1.3,sw:1};
series(pf, F_OPT, sF1);
series(pf, F_BAL, sF2);
stars(pf, F_STARS);
legItem(pf.g, 759, 783, 308, sF1, "Optimized Drop Action", 786, 10.5);
legItem(pf.g, 759, 783, 321, sF2, "Balanced Drop/Add Action", 786, 10.5);
</script>
</body>
</html>
